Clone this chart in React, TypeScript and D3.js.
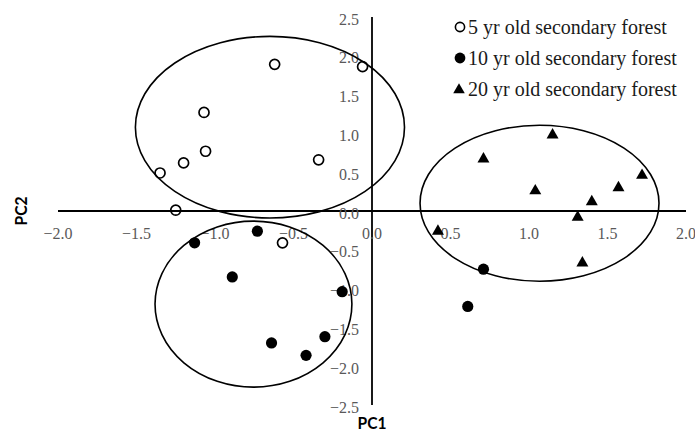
import * as d3 from 'd3';

// PCA scores
const yr5PC1 = [-0.62, -0.06, -1.07, -1.06, -1.2, -1.35, -0.34, -1.25, -0.57];
const yr5PC2 = [1.89, 1.86, 1.27, 0.77, 0.62, 0.49, 0.66, 0.01, -0.41];

const yr10PC1 = [-1.13, -0.73, -0.89, -0.19, -0.64, -0.3, -0.42, 0.71, 0.61];
const yr10PC2 = [-0.41, -0.26, -0.85, -1.04, -1.7, -1.62, -1.86, -0.75, -1.23];

const yr20PC1 = [1.15, 0.71, 1.04, 1.72, 1.57, 1.4, 1.31, 0.42, 1.34];
const yr20PC2 = [0.98, 0.67, 0.26, 0.46, 0.3, 0.12, -0.08, -0.26, -0.67];

// group ellipses: centre x, centre y, radius x, radius y (data units)
const ellipseCx = [-0.65, -0.755, 1.067];
const ellipseCy = [1.08, -1.2, 0.1];
const ellipseRx = [0.857, 0.627, 0.761];
const ellipseRy = [1.17, 1.07, 1.005];

const xTicks = [-2.0, -1.5, -1.0, -0.5, 0.0, 0.5, 1.0, 1.5, 2.0];
const yTicks = [-2.5, -2.0, -1.5, -1.0, -0.5, 0.0, 0.5, 1.0, 1.5, 2.0, 2.5];

const legendLabels = [
  '5 yr old secondary forest',
  '10 yr old secondary forest',
  '20 yr old secondary forest',
];

const width = 695, height = 432;
const serif = 'Liberation Serif, Times New Roman, serif';
const sansBold = 'Lato, Liberation Sans, sans-serif';

export default function App() {
  const x = d3.scaleLinear().domain([-2, 2]).range([58, 686]);
  const y = d3.scaleLinear().domain([-2.5, 2.5]).range([405, 17]);
  const fmt = d3.format('.1f');
  const tri = d3.symbol().type(d3.symbolTriangle).size(62)();
  const triLegend = d3.symbol().type(d3.symbolTriangle).size(58)();

  const legendY = [27, 58, 89];

  return (
    <svg width={width} height={height}
      style={{ position: 'absolute', left: 0, top: 0, background: '#fff' }}>
      {/* axes crossing at origin */}
      <line x1={x(-2)} x2={x(2)} y1={y(0)} y2={y(0)} stroke="#000" strokeWidth={1.8} />
      <line x1={x(0)} x2={x(0)} y1={y(2.5)} y2={y(-2.5)} stroke="#000" strokeWidth={1.8} />

      {xTicks.map(t => (
        <text key={'x' + t} x={x(t)} y={y(0) + 28} textAnchor="middle"
          fontFamily={serif} fontSize={16} fill="#595959">{fmt(t)}</text>
      ))}
      {yTicks.map(t => (
        <text key={'y' + t} x={x(0) - 13} y={y(t) + 7.5} textAnchor="end"
          fontFamily={serif} fontSize={16} fill="#595959">{fmt(t)}</text>
      ))}

      {/* points */}
      {yr5PC1.map((v, i) => (
        <circle key={'a' + i} cx={x(v)} cy={y(yr5PC2[i])} r={5} fill="none"
          stroke="#000" strokeWidth={1.7} />
      ))}
      {yr10PC1.map((v, i) => (
        <circle key={'b' + i} cx={x(v)} cy={y(yr10PC2[i])} r={5.6} fill="#000" />
      ))}
      {yr20PC1.map((v, i) => (
        <path key={'c' + i} d={tri} transform={`translate(${x(v)},${y(yr20PC2[i])})`} fill="#000" />
      ))}

      {/* group ellipses */}
      {ellipseCx.map((cx, i) => (
        <ellipse key={'e' + i} cx={x(cx)} cy={y(ellipseCy[i])}
          rx={x(ellipseRx[i]) - x(0)} ry={y(0) - y(ellipseRy[i])}
          fill="none" stroke="#000" strokeWidth={1.6} />
      ))}

      {/* legend */}
      <g>
        <circle cx={460} cy={legendY[0]} r={4.6} fill="none" stroke="#000" strokeWidth={1.6} />
        <circle cx={460} cy={legendY[1]} r={5.4} fill="#000" />
        <path d={triLegend} transform={`translate(459,${legendY[2] + 1})`} fill="#000" />
        {legendLabels.map((l, i) => (
          <text key={l} x={468} y={legendY[i] + 7} fontFamily={serif} fontSize={20}
            fill="#1a1a1a">{l}</text>
        ))}
      </g>

      {/* axis titles */}
      <text transform={`translate(${27},${y(0)}) rotate(-90)`} textAnchor="middle"
        fontFamily={sansBold} fontWeight="bold" fontSize={17} textLength={29}
        lengthAdjust="spacingAndGlyphs" fill="#000">PC2</text>
      <text x={x(0)} y={429} textAnchor="middle"
        fontFamily={sansBold} fontWeight="bold" fontSize={17} textLength={29}
        lengthAdjust="spacingAndGlyphs" fill="#000">PC1</text>
    </svg>
  );
}
